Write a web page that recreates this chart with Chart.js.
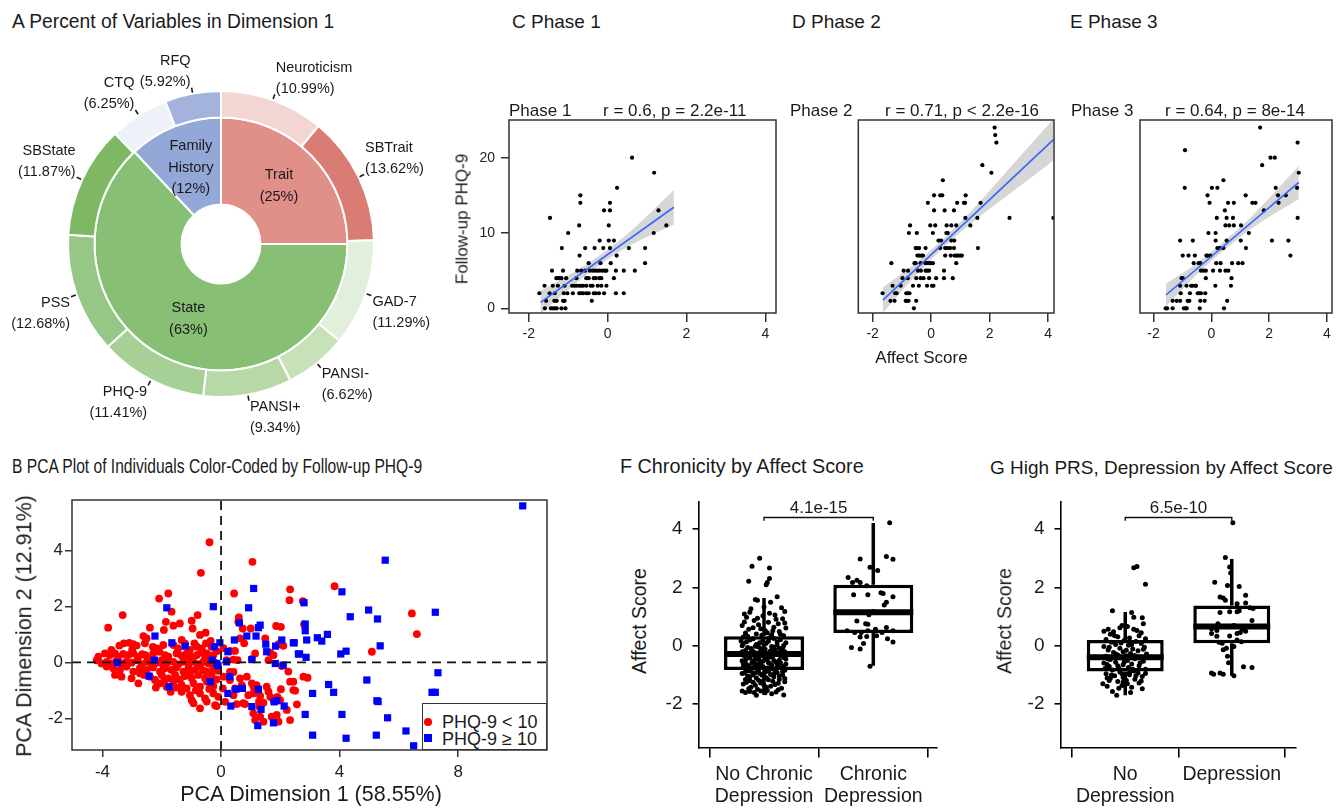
<!DOCTYPE html>
<html>
<head>
<meta charset="utf-8">
<script src="https://cdn.jsdelivr.net/npm/chart.js@4.4.1/dist/chart.umd.min.js"></script>
<style>
  html, body { margin: 0; padding: 0; background: #fff; }
  body { width: 1336px; height: 809px; position: relative; overflow: hidden;
         font-family: "Liberation Sans", Arial, Helvetica, sans-serif; color: #1a1a1a; }
  canvas { position: absolute; z-index: 1; }
  .t, .c, .r { position: absolute; white-space: nowrap; line-height: 1; z-index: 2; }
  .t { transform: translateY(-50%); }
  .c { transform: translate(-50%, -50%); }
  .r { transform: translate(-50%, -50%) rotate(-90deg); }
  #legB { position: absolute; left: 422px; top: 703px; width: 125px; height: 47px; box-sizing: border-box;
          border: 1.5px solid #333; background: #fff; z-index: 3; }
  .mk { position: absolute; z-index: 4; }
</style>
</head>
<body>
<div id="legB"></div>
<script>
// ---------------- Panel A: share of each variable in dimension 1 ----------------
const innerGroups = ['Trait', 'State', 'Family History'];
const innerPct = [25, 63, 12];
const outerVars = ['Neuroticism', 'SBTrait', 'GAD-7', 'PANSI-', 'PANSI+', 'PHQ-9', 'PSS', 'SBState', 'CTQ', 'RFQ'];
const outerPct = [10.99, 13.62, 11.29, 6.62, 9.34, 11.41, 12.68, 11.87, 6.25, 5.92];
const innerColors = ['#E08F89', '#87BF74', '#93A8D6'];
const outerColors = ['#F3D6D4', '#D97C73', '#E2EFDA', '#C7E1B9', '#B8D9A7', '#A7D096', '#97C786', '#7FB863', '#EFF1F8', '#A3B3DB'];

// ---------------- Panels C-E: follow-up PHQ-9 vs affect score ----------------
const affectTicks = [-2, 0, 2, 4];
const phqTicks = [0, 10, 20];
const phaseNames = ['Phase 1', 'Phase 2', 'Phase 3'];
const phaseStats = ['r = 0.6, p = 2.2e-11', 'r = 0.71, p < 2.2e-16', 'r = 0.64, p = 8e-14'];

const phase1Points = [[0.62,20],[1.18,18],[0.24,16],[-0.69,15],[-0.69,14],[0.06,14],[-0.09,13],[0.06,13],[1.29,13],[-1.46,12],
  [-0.72,11],[0.03,11],[1.49,11],[-1.00,10],[1.17,10],[-0.20,9],[0.03,9],[0.16,9],[-1.16,8],[-0.57,8],[-0.33,8],[-0.11,8],[0.06,8],
  [0.54,8],[0.95,8],[-0.71,7],[0.23,7],[-0.48,6],[-0.18,6],[0.08,6],[0.95,6],
  [-1.41,5],[-1.13,5],[-0.77,5],[-0.67,5],[-0.57,5],[-0.45,5],[-0.38,5],[-0.32,5],[-0.26,5],[-0.20,5],[-0.13,5],[-0.07,5],[-0.03,5],[0.21,5],[0.41,5],[0.69,5],
  [-1.30,4],[-1.26,4],[-1.22,4],[-1.17,4],[-1.05,4],[-0.79,4],[-0.54,4],[-0.48,4],[-0.35,4],[-0.30,4],[-0.21,4],[-0.16,4],[0.16,4],
  [-1.60,3],[-1.39,3],[-1.26,3],[-1.09,3],[-0.90,3],[-0.84,3],[-0.79,3],[-0.72,3],[-0.67,3],[-0.62,3],[-0.54,3],[-0.43,3],[-0.38,3],[-0.25,3],[-0.16,3],[-0.03,3],
  [-1.73,2],[-1.47,2],[-1.34,2],[-1.11,2],[-1.02,2],[-0.88,2],[-0.72,2],[-0.67,2],[-0.62,2],[-0.54,2],[-0.48,2],[-0.35,2],[-0.30,2],[-0.22,2],[-0.09,2],[0.21,2],[0.41,2],
  [-1.56,1],[-1.35,1],[-1.29,1],[-1.13,1],[-1.09,1],[-0.40,1],
  [-1.59,0],[-1.44,0],[-1.39,0],[-1.34,0],[-1.29,0],[-1.17,0],[-1.07,0]];
const phase1Fit = [[-1.70, 0.78], [1.68, 13.42]];
const phase1BandX = [-1.70, -1.0, -0.2, 0.6, 1.68];
const phase1BandLo = [-0.77, 2.45, 5.74, 8.43, 11.12];
const phase1BandHi = [2.33, 4.35, 7.04, 10.33, 15.72];

const phase2Points = [[2.17,24],[2.19,23],[2.23,22],[1.75,19],[2.06,18],[0.40,17],[0.10,15],[0.31,15],[0.38,15],[1.18,15],
  [-0.11,14],[0.89,14],[1.12,14],[1.16,14],[1.69,14],[0.10,13],[0.46,13],[0.78,13],[1.17,12],[1.58,12],[2.68,12],[4.18,12],
  [-0.72,11],[-0.03,11],[0.14,11],[0.53,11],[0.69,11],[0.86,11],[1.34,11],[-0.76,10],[-0.49,10],[0.06,10],[0.52,10],[0.57,10],
  [0.25,9],[0.34,9],[0.69,9],[0.79,9],[-0.53,8],[-0.49,8],[-0.41,8],[-0.19,8],[0.31,8],[0.48,8],[0.57,8],[0.65,8],[0.78,8],[1.60,8],
  [-0.47,7],[-0.41,7],[-0.34,7],[-0.28,7],[0.48,7],[0.67,7],[0.80,7],[0.86,7],[0.92,7],[0.99,7],[1.05,7],
  [-1.36,6],[-0.57,6],[-0.53,6],[-0.36,6],[-0.19,6],[-0.14,6],[-0.07,6],[-0.01,6],[0.06,6],[0.86,6],
  [-0.94,5],[-0.79,5],[-0.45,5],[-0.35,5],[-0.19,5],[-0.14,5],[-0.07,5],[0.44,5],
  [-0.98,4],[-0.80,4],[-0.51,4],[-0.36,4],[-0.26,4],[-0.07,4],[0.17,4],[0.44,4],[0.74,4],
  [-1.32,3],[-1.04,3],[-0.62,3],[-0.42,3],[-0.14,3],[0.03,3],[0.08,3],
  [-1.66,2],[-1.23,2],[-1.18,2],[-0.85,2],[-0.80,2],[-0.74,2],
  [-1.39,1],[-1.25,1],[-0.87,1],[-0.83,1],[-0.77,1],[-0.51,1],[-0.59,0]];
const phase2Fit = [[-1.65, 1.10], [4.18, 22.40]];
const phase2BandX = [-1.65, -0.5, 0.5, 1.5, 2.8, 4.18];
const phase2BandLo = [-0.60, 4.50, 8.35, 11.70, 15.54, 19.63];
const phase2BandHi = [2.80, 6.10, 9.55, 13.50, 19.14, 25.13];

const phase3Points = [[1.69,24],[2.99,22],[-0.91,21],[2.05,20],[2.20,20],[1.76,19],[3.03,18],[0.42,17],[-0.92,16],[0.02,16],
  [0.21,16],[2.23,16],[2.97,16],[1.19,15],[-0.13,15],[2.31,15],[2.58,15],[-0.06,14],[0.58,14],[0.78,14],[1.42,14],[1.53,14],
  [2.33,14],[0.47,13],[1.82,13],[0.19,12],[0.53,12],[0.75,12],[2.99,12],[0.49,11],[0.62,11],[0.78,11],[1.03,11],
  [-0.10,10],[0.15,10],[1.30,10],[-1.08,9],[-0.64,9],[0.15,9],[0.53,9],[1.02,9],[2.10,9],[2.67,9],[0.21,8],[0.30,8],[0.42,8],[1.20,8],
  [-0.99,7],[-0.79,7],[-0.57,7],[-0.17,7],[-0.13,7],[-0.03,7],[2.74,7],
  [-0.61,6],[-0.44,6],[-0.38,6],[0.17,6],[0.32,6],[0.72,6],[0.93,6],[1.08,6],
  [-0.36,5],[-0.28,5],[-0.19,5],[0.06,5],[0.30,5],[0.49,5],[0.59,5],
  [-1.03,4],[-0.99,4],[-0.19,4],[0.70,4],
  [-1.08,3],[-0.86,3],[-0.70,3],[-0.65,3],[-0.55,3],[-0.53,3],[0.14,3],[0.68,3],
  [-1.06,2],[-0.74,2],[-0.47,2],[-0.42,2],[-0.36,2],[-0.21,2],
  [-1.34,1],[-1.20,1],[-1.08,1],[-0.82,1],[-0.76,1],[-0.38,1],[-0.23,1],[0.55,1],
  [-1.58,0],[-1.53,0],[-1.34,0],[-0.95,0],[-0.89,0],[-0.85,0],[-0.40,0],[0.44,0]];
const phase3Fit = [[-1.57, 1.77], [3.03, 16.72]];
const phase3BandX = [-1.57, -0.5, 0.5, 1.5, 3.03];
const phase3BandLo = [0.27, 4.50, 7.90, 10.90, 14.52];
const phase3BandHi = [3.27, 6.00, 9.10, 12.60, 18.92];

// ---------------- Panel B: individuals on the first two PCA dimensions ----------------
const pcaTicksX = [-4, 0, 4, 8];
const pcaTicksY = [-2, 0, 2, 4];
const pcaLow = [ // follow-up PHQ-9 < 10
  [-0.39,4.29],[1.06,3.59],[-0.68,3.20],[2.33,2.61],[2.31,2.22],[-2.09,2.28],[-1.78,2.46],[0.44,2.46],[-3.32,1.69],[-3.81,1.24],
  [-1.67,1.81],[-1.86,1.45],[-2.40,1.24],[-1.93,1.16],[-1.61,1.31],[-1.39,1.39],[-0.79,1.69],[-0.99,1.49],[-0.96,1.21],[-0.71,0.98],
  [-0.52,1.06],[-0.35,0.77],[0.60,1.61],[0.58,1.45],[0.73,1.21],[1.00,1.21],[0.64,0.86],[0.78,0.68],[1.86,1.30],[2.02,1.27],
  [1.94,0.65],[2.10,0.59],[1.66,0.34],[1.15,0.32],[1.49,0.86],[3.83,2.72],[2.76,2.19],[2.80,1.36],[6.44,1.75],[6.61,1.01],
  [5.09,0.38],[1.04,0.12],[1.77,0.26],[0.08,0.51],[0.30,0.41],[0.47,0.41],[0.19,0.08],[0.42,0.10],[0.56,0.08],[1.60,0.08],[2.05,-0.13],
  [2.27,-0.33],[2.44,-0.69],[2.78,-0.51],[2.92,-0.55],[2.50,-1.01],[2.02,-0.96],[1.90,-1.23],[1.77,-1.35],[1.66,-1.23],[1.60,-1.05],
  [1.54,-0.87],[2.56,-1.50],[1.32,-1.20],[1.15,-1.05],[1.10,-0.87],[1.04,-0.75],[1.29,-1.58],[0.81,-1.49],[0.53,-1.49],[0.42,-1.17],
  [0.47,-0.93],[0.14,-1.41],[0.08,-0.51],[0.06,-0.93],[0.30,-0.34],[0.42,-0.34],[0.70,-0.81],[0.30,-0.63],[0.64,-0.57],[0.87,-0.51],
  [1.20,-0.81],[1.09,-1.11],[1.28,-1.40],[1.43,-1.44],[1.99,-1.35],[2.22,-1.70],[1.15,-2.06],[1.09,-1.82],[1.32,-1.94],[1.43,-2.12],
  [1.71,-1.94],[1.88,-1.88],[1.94,-2.12],[2.33,-2.06],[0.75,-1.46],[0.92,-1.17],[2.33,-0.69],[2.44,-0.99],
  [-2.62,0.94],[-2.51,0.86],[-3.43,0.60],[-3.28,0.68],[-3.10,0.70],[-2.96,0.65],[-2.85,0.60],[-2.57,0.68],[-2.17,0.50],[-1.95,0.62],
  [-1.61,0.62],[-1.33,0.80],[-1.22,0.68],[-0.90,0.68],[-0.82,0.56],[-0.65,0.50],[-0.51,0.68],[-0.32,0.56],[-0.48,0.32],
  [-4.14,0.20],[-3.92,0.32],[-3.75,0.26],[-3.58,0.32],[-3.47,0.20],[-3.30,0.30],[-3.13,0.26],[-2.96,0.32],[-2.79,0.20],[-2.66,0.29],
  [-2.55,0.26],[-2.29,0.32],[-2.08,0.38],[-1.89,0.26],[-1.78,0.20],[-1.50,0.32],[-1.33,0.24],[-1.16,0.32],[-1.01,0.20],[-0.82,0.26],
  [-0.68,0.35],[-0.54,0.20],[-0.26,0.26],
  [-4.20,0.08],[-4.03,-0.04],[-3.86,0.02],[-3.69,-0.04],[-3.52,0.06],[-3.36,-0.04],[-3.21,0.02],[-3.02,-0.01],[-2.83,0.08],[-2.68,-0.06],
  [-2.51,0.02],[-2.34,-0.07],[-2.17,-0.01],[-2.00,0.08],[-1.84,-0.04],[-1.61,0.02],[-1.44,-0.07],[-1.27,0.02],[-1.10,-0.04],[-0.93,0.02],
  [-0.77,-0.06],[-0.60,0.02],[-0.43,-0.04],[-0.20,-0.01],
  [-3.86,-0.15],[-3.64,-0.21],[-3.41,-0.27],[-3.19,-0.15],[-2.96,-0.33],[-2.74,-0.21],[-2.51,-0.27],[-2.29,-0.18],[-2.06,-0.33],[-1.89,-0.21],
  [-1.67,-0.27],[-1.50,-0.18],[-1.27,-0.33],[-1.10,-0.21],[-0.88,-0.27],[-0.71,-0.15],[-0.48,-0.33],[-0.26,-0.21],
  [-3.58,-0.45],[-3.36,-0.51],[-3.02,-0.57],[-2.74,-0.39],[-2.40,-0.51],[-2.23,-0.63],[-2.00,-0.45],[-1.78,-0.57],[-1.55,-0.45],[-1.39,-0.61],
  [-1.22,-0.49],[-0.99,-0.57],[-0.77,-0.45],[-0.54,-0.57],[-0.32,-0.45],[-0.15,-0.61],
  [-2.79,-0.75],[-2.06,-0.75],[-1.84,-0.87],[-1.61,-0.69],[-1.33,-0.81],[-1.16,-0.93],[-0.93,-0.75],[-0.71,-0.87],[-0.48,-0.69],[-0.26,-0.85],
  [-1.33,-1.05],[-1.05,-1.17],[-0.99,-1.35],[-0.71,-1.11],[-0.54,-1.29],[-0.26,-1.11],[-0.09,-1.23],
  [-0.93,-1.46],[-0.48,-1.40],[-0.15,-1.56],[-0.71,-1.64],[-0.20,-1.53],
  [-3.00,0.45],[-2.30,0.55],[-1.45,0.50],[-1.05,0.45],[-0.15,0.40],[-3.70,0.45],[-2.45,0.12],[-1.95,-0.10],[-1.20,0.15],[-0.40,0.12],
  [-2.60,-0.45],[-1.90,-0.62],[-1.05,-0.40],[-0.60,-0.30],[-1.50,-0.90],[-0.85,-1.00],[-0.40,-0.95],[-2.20,-0.90],[-1.70,-1.05],[-0.10,-0.30]];
const pcaHigh = [ // follow-up PHQ-9 >= 10
  [-2.23,0.94],[-1.83,1.95],[-1.66,0.70],[-1.21,0.58],[-2.25,0.08],[-3.50,-0.01],[-2.43,-0.49],[-1.75,-0.87],[-0.26,1.99],[-0.04,0.70],
  [-0.23,0.56],[-0.30,0.08],[-0.14,-0.04],[-0.37,-0.69],[0.23,0.38],[0.19,0.02],[0.45,0.80],[0.62,1.41],[0.93,1.95],[1.10,2.64],
  [0.87,0.94],[1.18,0.94],[1.32,1.33],[1.26,1.24],[1.51,0.65],[1.54,0.38],[1.84,0.58],[2.05,0.80],[1.83,-0.04],[2.10,-0.10],
  [2.44,0.70],[2.61,0.30],[0.30,-0.51],[0.23,-1.11],[0.33,-1.56],[0.50,-0.96],[0.72,-0.93],[1.04,-1.58],[1.26,-0.96],[1.35,-1.68],
  [1.24,-2.26],[1.79,-1.41],[1.88,-1.37],[2.13,-1.56],[1.77,-2.16],[-0.10,-0.12],[1.04,0.10],
  [10.18,5.59],[5.54,3.65],[4.08,2.52],[4.98,1.87],[5.28,1.55],[4.36,1.63],[7.23,1.79],[2.80,2.13],[2.84,1.37],[2.84,1.13],
  [2.89,0.80],[2.47,0.70],[3.25,0.88],[3.40,0.76],[3.59,1.00],[2.65,0.30],[2.87,0.18],[4.04,0.30],[4.22,0.40],[5.37,0.59],
  [7.32,-0.37],[4.92,-0.63],[3.63,-0.79],[3.80,-1.07],[3.09,-1.11],[5.26,-1.37],[5.30,-1.40],[7.12,-1.07],[7.23,-1.07],[2.84,-1.86],
  [4.08,-1.86],[5.62,-1.98],[6.24,-2.45],[3.09,-2.60],[4.22,-2.71],[5.24,-2.60],[6.50,-2.98]];
const pcaLegend = ['PHQ-9 < 10', 'PHQ-9 \u2265 10'];

// ---------------- Panels F-G: affect score by group ----------------
const affectBoxTicks = [-2, 0, 2, 4];
const chronCats = [['No Chronic', 'Depression'], ['Chronic', 'Depression']];
const chronMin = [-1.68, -0.68], chronQ1 = [-0.83, 0.44], chronMed = [-0.28, 1.15], chronQ3 = [0.33, 2.09], chronMax = [1.64, 4.21];
const chronP = '4.1e-15';
const chronNo = [[0.96,3.00],[0.89,2.73],[1.05,2.67],[1.05,2.31],[1.03,2.17],[0.86,2.21],[1.02,2.09],
  [0.92,1.59],[0.94,1.56],[1.12,1.68],[1.06,1.49],[1.16,1.31],[1.19,1.18],[0.82,1.09],[0.88,1.27],[1.00,1.33],[0.84,0.98],[0.99,1.03],
  [1.10,1.06],[1.17,0.93],[0.91,0.87],[1.04,0.81],[1.13,0.76],[0.80,0.70],[0.95,0.72],[1.09,0.64],[1.20,0.61],[0.86,0.57],[1.01,0.53],
  [1.14,0.49],[0.83,0.44],[0.93,0.41],[1.07,0.38],[1.18,0.35],[0.97,0.59],[1.11,0.91],[0.87,1.15],
  [0.81,0.30],[1.05,0.28],[0.90,0.24],[1.15,0.21],[0.99,0.19],[0.84,0.14],[1.20,0.11],[1.02,0.09],[0.93,0.05],[1.12,0.03],[0.80,0.00],
  [1.07,-0.02],[0.95,-0.04],[1.17,-0.07],[0.88,-0.09],[1.01,-0.12],[1.10,-0.14],[0.83,-0.16],[0.97,-0.18],[1.19,-0.20],[0.91,-0.22],
  [1.06,-0.23],[0.86,-0.26],[1.13,-0.27],[1.00,-0.29],[0.94,-0.31],[1.16,-0.13],[0.79,0.17],[1.09,0.25],
  [0.82,-0.34],[1.08,-0.36],[0.95,-0.38],[1.18,-0.40],[0.87,-0.42],[1.03,-0.44],[0.92,-0.47],[1.14,-0.49],[0.80,-0.51],[0.99,-0.53],
  [1.11,-0.55],[0.89,-0.58],[1.05,-0.60],[1.20,-0.62],[0.84,-0.64],[0.97,-0.66],[1.12,-0.68],[0.93,-0.70],[1.07,-0.72],[0.81,-0.74],
  [1.16,-0.76],[1.01,-0.78],[0.88,-0.80],[1.10,-0.82],[0.96,-0.57],[1.02,-0.41],
  [0.85,-0.85],[1.04,-0.87],[1.17,-0.89],[0.92,-0.92],[0.80,-0.95],[1.09,-0.97],[0.98,-1.00],[1.14,-1.03],[0.87,-1.06],[1.02,-1.09],
  [1.19,-1.12],[0.83,-1.15],[0.95,-1.18],[1.08,-1.21],[0.90,-1.25],[1.13,-1.28],[0.81,-1.31],[1.00,-1.34],[1.06,-1.38],[0.88,-1.42],
  [1.16,-1.45],[0.94,-1.49],[1.03,-1.53],[0.83,-1.60],[0.93,-1.69],[1.01,-1.61],[1.18,-1.68],[0.87,-1.56],[1.11,-1.58],[0.97,-1.27],
  [0.90,0.62],[1.03,0.45],[0.85,0.33],[1.15,0.40],[0.98,0.36],[1.08,0.52],[0.82,0.82],[1.19,0.78],[0.94,0.95],[1.05,1.12],
  [0.87,0.20],[1.12,0.13],[0.96,0.11],[1.04,0.16],[0.81,0.07],[1.18,0.01],[0.92,-0.01],[1.00,0.04],[1.09,-0.05],[0.85,-0.06],
  [1.14,-0.09],[0.98,-0.10],[0.89,-0.15],[1.06,-0.17],[0.80,-0.20],[1.17,-0.23],[0.94,-0.25],[1.02,-0.26],[0.84,-0.29],[1.10,-0.30],
  [0.91,-0.33],[1.15,-0.34],[0.99,-0.35],[1.06,-0.38],[0.86,-0.39],[1.20,-0.45],[0.95,-0.44],[1.01,-0.47],[0.83,-0.49],[1.09,-0.50],
  [0.90,-0.52],[1.15,-0.58],[0.97,-0.55],[1.04,-0.57],[0.81,-0.61],[1.12,-0.62],[0.93,-0.63],[1.07,-0.66],[0.86,-0.68],[1.18,-0.70],
  [0.99,-0.71],[0.90,-0.74],[1.14,-0.73],[1.03,-0.76],[0.83,-0.79],[1.08,-0.79],[0.95,-0.82],[1.19,-0.84],[0.88,-0.87],[1.01,-0.90],
  [1.12,-0.91],[0.82,-0.93],[0.96,-0.95],[1.06,-0.98],[0.90,-1.00],[1.17,-1.00],[0.85,-1.03],[1.00,-1.05],[1.09,-1.06],[0.93,-1.10],
  [1.14,-1.15],[0.87,-1.19],[1.04,-1.16],[0.98,-1.22],[1.19,-1.23],[0.84,-1.25],[1.10,-1.32],[0.92,-1.35],[1.02,-1.42],[0.86,-1.47],
  [1.13,-1.50],[0.97,-1.55],[1.07,-1.64],[0.80,-1.55],[0.91,-1.60]];
const chronYes = [[2.15,4.22],[1.88,2.98],[2.12,3.06],[2.18,2.97],[1.97,2.69],[2.04,2.58],[1.77,2.34],[1.85,2.25],[1.88,2.17],[1.81,2.17],
  [1.94,2.06],[1.82,1.75],[1.95,1.75],[2.07,1.82],[2.09,1.79],[2.18,1.68],[2.12,1.49],[2.10,1.40],[2.00,1.18],[1.96,1.07],
  [1.85,0.85],[1.93,0.76],[1.95,0.74],[2.02,0.57],[2.12,0.63],[2.18,0.52],[1.83,0.46],[1.89,0.46],[1.95,0.52],[2.08,0.46],
  [1.88,0.30],[1.94,0.32],[2.13,0.24],[2.18,0.13],[1.91,0.08],[1.80,-0.06],[1.88,-0.11],[1.97,-0.70],[2.03,0.35],[1.76,0.52]];

const prsCats = [['No', 'Depression'], ['Depression']];
const prsMin = [-1.69, -1.02], prsQ1 = [-0.88, 0.09], prsMed = [-0.39, 0.66], prsQ3 = [0.20, 1.38], prsMax = [1.16, 2.98];
const prsP = '6.5e-10';
const prsNo = [[1.08,2.68],[1.11,2.72],[1.19,2.11],
  [0.88,1.20],[1.06,1.14],[1.08,0.98],[1.16,0.96],[1.17,0.76],[1.08,0.57],[1.11,0.53],[0.84,0.57],[0.80,0.50],[0.89,0.48],[0.97,0.70],
  [0.95,0.62],[1.02,0.66],[0.86,0.40],[1.13,0.35],[0.93,0.31],[1.04,0.27],[1.19,0.24],[0.82,0.22],
  [0.99,0.18],[1.10,0.15],[0.87,0.12],[1.15,0.08],[0.91,0.05],[1.03,0.02],[0.80,-0.02],[1.18,-0.05],[0.95,-0.08],[1.07,-0.11],
  [0.84,-0.14],[1.12,-0.17],[0.98,-0.20],[0.89,-0.23],[1.05,-0.26],[1.20,-0.28],[0.93,-0.31],[1.01,-0.34],[0.82,-0.36],[1.14,-0.38],
  [0.96,-0.41],[1.09,-0.44],[0.86,-0.47],[1.02,-0.50],[1.17,-0.53],[0.91,-0.56],[0.80,-0.59],[1.06,-0.62],[0.98,-0.65],[1.13,-0.68],
  [0.85,-0.71],[1.03,-0.74],[0.94,-0.77],[1.19,-0.80],[0.88,-0.83],[1.08,-0.86],[1.00,-0.46],[0.83,-0.64],
  [0.95,-0.90],[1.12,-0.93],[0.82,-0.96],[1.04,-0.99],[0.90,-1.02],[1.16,-1.05],[0.98,-1.08],[0.86,-1.11],[1.09,-1.14],[1.01,-1.18],
  [0.93,-1.22],[0.79,-1.30],[0.83,-1.38],[0.98,-1.24],[0.97,-1.36],[1.16,-1.47],[0.88,-1.56],[0.92,-1.69],[1.06,-1.42],[1.13,-1.27],
  [0.85,-1.19],[1.05,-1.60],
  [0.90,0.35],[1.15,0.45],[0.96,0.10],[1.06,0.05],[0.85,-0.05],[1.01,-0.15],[1.17,-0.12],[0.91,-0.28],[1.09,-0.33],[0.84,-0.45],
  [0.99,-0.55],[1.14,-0.58],[0.93,-0.68],[1.07,-0.80],[0.81,-0.78],[1.19,-0.95],[0.97,-0.96],[1.10,-1.02],[0.87,-1.00],[1.02,-1.30],
  [0.94,-1.45],[1.15,-1.20],[0.83,-1.10],[1.04,-0.92]];
const prsYes = [[2.01,4.22],[1.94,3.03],[1.98,2.70],[1.99,2.50],[1.84,2.18],[1.96,2.07],[2.07,2.03],[1.89,1.67],[1.92,1.64],[2.13,1.73],
  [1.94,1.56],[2.05,1.44],[2.13,1.47],[2.17,1.31],[2.20,1.28],[1.89,1.14],[1.98,1.17],[2.05,1.17],[2.07,1.20],[1.87,0.76],
  [2.19,0.87],[1.81,0.59],[1.86,0.53],[1.95,0.67],[2.02,0.70],[2.10,0.57],[2.13,0.50],[2.05,0.42],[2.08,0.46],[1.81,0.42],
  [1.86,0.33],[1.98,0.34],[2.05,0.20],[2.09,0.14],[1.88,0.12],[1.91,0.09],[1.95,-0.08],[2.02,-0.02],[1.92,-0.13],[1.96,-0.36],
  [1.97,-0.58],[1.89,-0.93],[1.92,-0.97],[1.81,-0.93],[1.83,-0.97],[2.02,-1.02],[2.11,-0.72],[2.19,-0.74]];

// ---------------- shared helpers ----------------
const FONT = '"Liberation Sans", Arial, Helvetica, sans-serif';
Chart.defaults.font.family = FONT;
Chart.defaults.color = '#222';

function makeCanvas(left, top, w, h) {
  const c = document.createElement('canvas');
  c.width = w; c.height = h;
  Object.assign(c.style, { left: left + 'px', top: top + 'px', width: w + 'px', height: h + 'px' });
  document.body.appendChild(c);
  return c;
}
function text(str, x, y, size, kind, extra) {
  const d = document.createElement('div');
  d.className = kind; d.textContent = str;
  Object.assign(d.style, { left: x + 'px', top: y + 'px', fontSize: size + 'px' }, extra || {});
  document.body.appendChild(d);
  return d;
}
const setTicks = vals => scale => { scale.ticks = vals.map(v => ({ value: v })); };
const xy = p => ({ x: p[0], y: p[1] });
const base = { responsive: false, animation: false, events: [],
  plugins: { legend: { display: false }, tooltip: { enabled: false } } };

// rectangle around the plotting region
const framePlugin = {
  id: 'frame',
  afterDatasetsDraw(chart, args, o) {
    const { ctx, chartArea: a } = chart;
    ctx.save();
    ctx.strokeStyle = o.color || '#333';
    ctx.lineWidth = o.width || 1.5;
    ctx.strokeRect(a.left, a.top, a.right - a.left, a.bottom - a.top);
    ctx.restore();
  }
};

// ---------------- Panel A chart ----------------
const donutLabels = {
  id: 'donutLabels',
  afterDatasetsDraw(chart) {
    const ctx = chart.ctx;
    ctx.save();
    ctx.fillStyle = '#1a1a1a';
    ctx.strokeStyle = '#1a1a1a';
    ctx.lineWidth = 1.6;
    ctx.font = '14.5px ' + FONT;
    ctx.textBaseline = 'middle';
    const lh = 21;
    chart.getDatasetMeta(0).data.forEach((arc, i) => {
      const p = arc.getProps(['x', 'y', 'startAngle', 'endAngle', 'outerRadius'], true);
      const a = (p.startAngle + p.endAngle) / 2, c = Math.cos(a), s = Math.sin(a);
      const r0 = p.outerRadius + 1, r1 = p.outerRadius + 6;
      ctx.beginPath();
      ctx.moveTo(p.x + r0 * c, p.y + r0 * s);
      ctx.lineTo(p.x + r1 * c, p.y + r1 * s);
      ctx.stroke();
      const ex = p.x + r1 * c, ey = p.y + r1 * s;
      const lines = [outerVars[i], '(' + outerPct[i].toFixed(2) + '%)'];
      ctx.textAlign = c >= 0 ? 'left' : 'right';
      const y0 = s < 0 ? ey - 5.5 - (lines.length - 1) * lh : ey + 6.5;
      lines.forEach((t, k) => ctx.fillText(t, ex + (c >= 0 ? 1 : -1), y0 + k * lh));
    });
    ctx.textAlign = 'center';
    const ilh = 21.5;
    chart.getDatasetMeta(1).data.forEach((arc, i) => {
      const p = arc.getProps(['x', 'y', 'startAngle', 'endAngle', 'innerRadius', 'outerRadius'], true);
      const a = (p.startAngle + p.endAngle) / 2, r = (p.innerRadius + p.outerRadius) / 2 - 1;
      const cx = p.x + r * Math.cos(a), cy = p.y + r * Math.sin(a);
      const lines = innerGroups[i].split(' ').concat(['(' + innerPct[i] + '%)']);
      const y0 = cy - (lines.length - 1) * ilh / 2;
      lines.forEach((t, k) => ctx.fillText(t, cx, y0 + k * ilh));
    });
    ctx.restore();
  }
};
new Chart(makeCanvas(0, 40, 442, 408), {
  type: 'doughnut',
  data: {
    labels: outerVars,
    datasets: [
      { data: outerPct, backgroundColor: outerColors, borderColor: '#fff', borderWidth: 2, weight: 26.5 },
      { data: innerPct, backgroundColor: innerColors, borderColor: '#fff', borderWidth: 2, weight: 87 }
    ]
  },
  options: Object.assign({}, base, { radius: 153, cutout: '25.8%', layout: { padding: 0 } }),
  plugins: [donutLabels]
});

// ---------------- Panels C-E charts ----------------
function phaseChart(rect, pad, pts, fit, bx, blo, bhi, xr, withY) {
  return new Chart(makeCanvas(...rect), {
    type: 'scatter',
    data: { datasets: [
      { type: 'line', showLine: true, data: fit.map(xy), borderColor: '#3366FF', borderWidth: 1.6, pointRadius: 0, order: 0 },
      { data: pts.map(xy), backgroundColor: '#000', borderWidth: 0, pointRadius: 2.1, order: 1 },
      { type: 'line', showLine: true, data: bx.map((x, i) => ({ x, y: blo[i] })), borderColor: 'rgba(0,0,0,0)',
        pointRadius: 0, cubicInterpolationMode: 'monotone', order: 2 },
      { type: 'line', showLine: true, data: bx.map((x, i) => ({ x, y: bhi[i] })), borderColor: 'rgba(0,0,0,0)',
        pointRadius: 0, cubicInterpolationMode: 'monotone', fill: '-1', backgroundColor: 'rgba(153,153,153,0.4)', order: 2 }
    ] },
    options: Object.assign({}, base, {
      layout: { padding: pad },
      plugins: Object.assign({}, base.plugins, { frame: { color: '#333', width: 1.5 } }),
      scales: {
        x: { type: 'linear', min: xr[0], max: xr[1], afterBuildTicks: setTicks(affectTicks), afterFit: s => { s.height = 42; },
             grid: { drawOnChartArea: false, tickLength: 9, color: '#333', lineWidth: 1.5 }, border: { display: false },
             ticks: { font: { size: 14 }, color: '#222', padding: 4, maxRotation: 0, autoSkip: false } },
        y: { type: 'linear', min: -0.62, max: 25, display: withY, afterBuildTicks: setTicks(phqTicks), afterFit: s => { s.width = 69; },
             grid: { drawOnChartArea: false, tickLength: 8, color: '#333', lineWidth: 1.5 }, border: { display: false },
             ticks: { font: { size: 14 }, color: '#222', padding: 6, autoSkip: false } }
      }
    }),
    plugins: [framePlugin]
  });
}
phaseChart([440, 95, 345, 260], { left: 0, right: 9, top: 25, bottom: 0 },
  phase1Points, phase1Fit, phase1BandX, phase1BandLo, phase1BandHi, [-2.5, 4.27], true);
phaseChart([780, 95, 285, 260], { left: 9.3, right: 11, top: 25, bottom: 0 },
  phase2Points, phase2Fit, phase2BandX, phase2BandLo, phase2BandHi, [-2.49, 4.2], false);
phaseChart([1062, 95, 274, 260], { left: 9, right: 3, top: 25, bottom: 0 },
  phase3Points, phase3Fit, phase3BandX, phase3BandLo, phase3BandHi, [-2.47, 4.18], false);

// ---------------- Panel B chart ----------------
const pcaX = [-5.03, 11.0], pcaY = [-3.13, 5.8];
new Chart(makeCanvas(35, 485, 520, 324), {
  type: 'scatter',
  data: { datasets: [
    { type: 'line', showLine: true, data: [{ x: 0, y: pcaY[0] }, { x: 0, y: pcaY[1] }], borderColor: '#111', borderWidth: 1.8,
      borderDash: [9, 6], pointRadius: 0, order: 0 },
    { type: 'line', showLine: true, data: [{ x: pcaX[0], y: 0 }, { x: pcaX[1], y: 0 }], borderColor: '#111', borderWidth: 1.8,
      borderDash: [9, 6], pointRadius: 0, order: 0 },
    { label: pcaLegend[1], data: pcaHigh.map(xy), pointStyle: 'rect', pointRadius: 5.1, backgroundColor: '#0000FF', borderWidth: 0, order: 1 },
    { label: pcaLegend[0], data: pcaLow.map(xy), pointStyle: 'circle', pointRadius: 3.9, backgroundColor: '#FF0000', borderWidth: 0, order: 2 }
  ] },
  options: Object.assign({}, base, {
    layout: { padding: { left: 0, right: 8, top: 15, bottom: 0 } },
    plugins: Object.assign({}, base.plugins, { frame: { color: '#333', width: 1.5 } }),
    scales: {
      x: { type: 'linear', min: pcaX[0], max: pcaX[1], afterBuildTicks: setTicks(pcaTicksX), afterFit: s => { s.height = 59; },
           grid: { drawOnChartArea: false, tickLength: 7, color: '#333', lineWidth: 1.5 }, border: { display: false },
           ticks: { font: { size: 17 }, color: '#222', padding: 5, maxRotation: 0, autoSkip: false } },
      y: { type: 'linear', min: pcaY[0], max: pcaY[1], afterBuildTicks: setTicks(pcaTicksY), afterFit: s => { s.width = 37; },
           grid: { drawOnChartArea: false, tickLength: 7, color: '#333', lineWidth: 1.5 }, border: { display: false },
           ticks: { font: { size: 17 }, color: '#222', padding: 2, autoSkip: false } }
    }
  }),
  plugins: [framePlugin]
});

// ---------------- Panels F-G charts ----------------
const bracketLabel = {
  id: 'bracketLabel',
  afterDatasetsDraw(chart, args, o) {
    const ctx = chart.ctx;
    ctx.save();
    ctx.fillStyle = '#1a1a1a';
    ctx.font = '17px ' + FONT;
    ctx.textAlign = 'center';
    ctx.textBaseline = 'middle';
    ctx.fillText(o.text, chart.scales.x.getPixelForValue(1.5), chart.scales.y.getPixelForValue(o.y) - 9);
    ctx.restore();
  }
};
function boxChart(rect, pad, yW, xr, cats, mins, q1s, meds, q3s, maxs, groups, pText, boxW) {
  const whisk = [], medSeg = [];
  cats.forEach((c, i) => {
    const x = i + 1;
    whisk.push({ x, y: q3s[i] }, { x, y: maxs[i] }, { x, y: null }, { x, y: mins[i] }, { x, y: q1s[i] }, { x, y: null });
    medSeg.push({ x: x - boxW / 2, y: meds[i] }, { x: x + boxW / 2, y: meds[i] }, { x, y: null });
  });
  const bY = 4.4, drop = 0.11;
  return new Chart(makeCanvas(...rect), {
    type: 'scatter',
    data: { datasets: [
      { data: [].concat(...groups).map(xy), backgroundColor: '#000', borderWidth: 0, pointRadius: 2.5, order: 0 },
      { type: 'line', showLine: true, data: medSeg, borderColor: '#000', borderWidth: 6, borderCapStyle: 'butt', pointRadius: 0, spanGaps: false, order: 1 },
      { type: 'line', showLine: true, data: whisk, borderColor: '#000', borderWidth: 3.5, borderCapStyle: 'butt', pointRadius: 0, spanGaps: false, order: 2 },
      { type: 'bar', data: cats.map((c, i) => ({ x: i + 1, y: [q1s[i], q3s[i]] })), backgroundColor: '#fff', borderColor: '#000',
        borderWidth: 3.5, borderSkipped: false, barPercentage: boxW, categoryPercentage: 1, grouped: false, order: 3 },
      { type: 'line', showLine: true, data: [{ x: 1, y: bY - drop }, { x: 1, y: bY }, { x: 2, y: bY }, { x: 2, y: bY - drop }],
        borderColor: '#111', borderWidth: 1.4, pointRadius: 0, order: 0 }
    ] },
    options: Object.assign({}, base, {
      layout: { padding: pad },
      plugins: Object.assign({}, base.plugins, { bracketLabel: { text: pText, y: bY } }),
      scales: {
        x: { type: 'linear', offset: false, min: xr[0], max: xr[1], afterBuildTicks: setTicks([1, 2]), afterFit: s => { s.height = 61; },
             grid: { drawOnChartArea: false, tickLength: 9.5, color: '#000', lineWidth: 1.6 }, border: { display: true, color: '#000', width: 1.6 },
             ticks: { callback: v => cats[v - 1], font: { size: 19.5, lineHeight: 1.12 }, color: '#1a1a1a', padding: 6, maxRotation: 0, autoSkip: false } },
        y: { type: 'linear', min: -3.5, max: 4.95, afterBuildTicks: setTicks(affectBoxTicks), afterFit: s => { s.width = yW; },
             grid: { drawOnChartArea: false, tickLength: 6.5, color: '#000', lineWidth: 1.6 }, border: { display: true, color: '#000', width: 1.6 },
             ticks: { font: { size: 19 }, color: '#1a1a1a', padding: 10, autoSkip: false } }
      }
    }),
    plugins: [bracketLabel]
  });
}
boxChart([655, 480, 295, 329], { left: 0, right: 13, top: 13, bottom: 0 }, 44, [0.405, 2.583], chronCats,
  chronMin, chronQ1, chronMed, chronQ3, chronMax, [chronNo, chronYes], chronP, 0.732);
boxChart([1015, 480, 321, 329], { left: 0, right: 40, top: 13, bottom: 0 }, 46, [0.397, 2.603], prsCats,
  prsMin, prsQ1, prsMed, prsQ3, prsMax, [prsNo, prsYes], prsP, 0.722);

// ---------------- titles and axis labels ----------------
text('A Percent of Variables in Dimension 1', 12, 21.5, 19.3, 't');
text('C Phase 1', 512, 21, 19, 't');
text('D Phase 2', 792, 21, 19, 't');
text('E Phase 3', 1070, 21, 19, 't');
text('B PCA Plot of Individuals Color-Coded by Follow-up PHQ-9', 12, 466, 20, 't',
  { transform: 'translateY(-50%) scaleX(0.78)', transformOrigin: '0 50%' });
text('F Chronicity by Affect Score', 620, 467, 19.8, 't');
text('G High PRS, Depression by Affect Score', 990, 467, 19, 't');

[[509, 603], [790, 885], [1071, 1165]].forEach((xs, i) => {
  text(phaseNames[i], xs[0], 109.5, 17, 't');
  text(phaseStats[i], xs[1], 109.5, 17, 't');
});
text('Follow-up PHQ-9', 462, 219, 17, 'r');
text('Affect Score', 921.5, 356.5, 17, 'c');
text('PCA Dimension 1 (58.55%)', 311, 795, 21.5, 'c');
text('PCA Dimension 2 (12.91%)', 25, 626, 21.5, 'r');
text('Affect Score', 640, 621, 19.5, 'r');
text('Affect Score', 1005, 621, 19.5, 'r');

// legend of panel B
const mk1 = document.createElement('div');
mk1.className = 'mk';
Object.assign(mk1.style, { left: '424.2px', top: '718.2px', width: '7.6px', height: '7.6px', borderRadius: '50%', background: '#FF0000' });
document.body.appendChild(mk1);
const mk2 = document.createElement('div');
mk2.className = 'mk';
Object.assign(mk2.style, { left: '424.4px', top: '734.4px', width: '7.2px', height: '7.2px', background: '#0000FF' });
document.body.appendChild(mk2);
text(pcaLegend[0], 442, 722, 18, 't', { zIndex: 4 });
text(pcaLegend[1], 442, 739, 18, 't', { zIndex: 4 });
</script>
</body>
</html>
